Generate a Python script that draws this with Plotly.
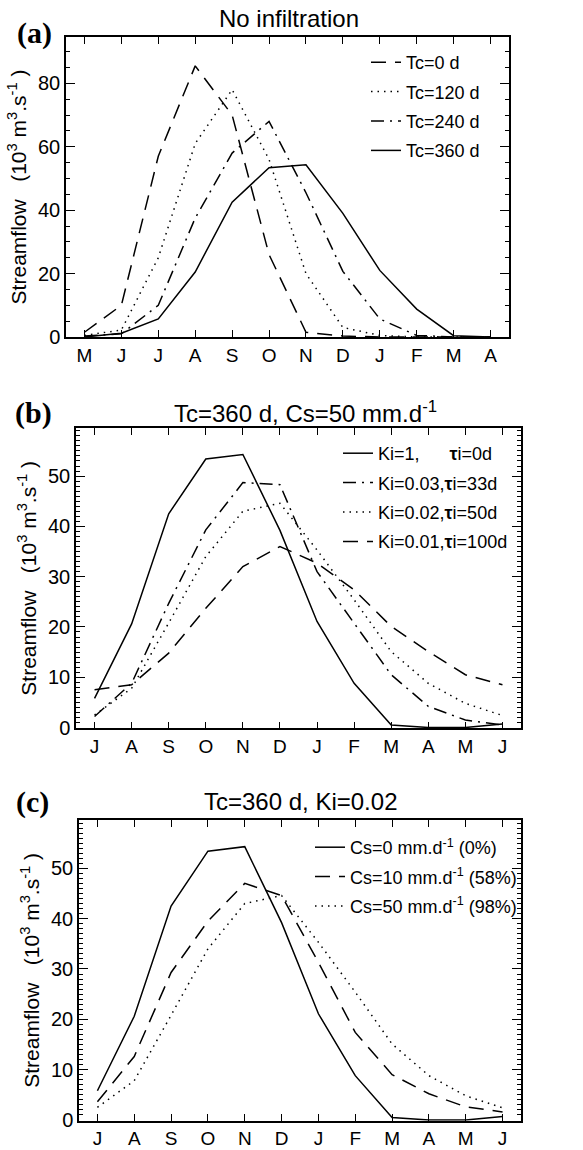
import plotly.graph_objects as go

# ---------------- data ----------------
months_a = ["M", "J", "J", "A", "S", "O", "N", "D", "J", "F", "M", "A"]
months_bc = ["J", "A", "S", "O", "N", "D", "J", "F", "M", "A", "M", "J"]

# panel (a): no infiltration
tc0 = [1.5, 10, 57, 85.5, 70, 26, 1.5, 0.3, 0, 0, 0, 0]
tc120 = [0.5, 2.2, 25, 61, 78, 56, 20, 3, 0.5, 0, 0, 0]
tc240 = [0.3, 1, 10, 37.5, 58, 68, 45.5, 20.7, 5.7, 0.5, 0, 0]
tc360 = [0, 1.2, 5.7, 20.5, 42.5, 53.4, 54.3, 39, 21, 8.8, 0.4, 0]

# panel (b): Tc=360 d, Cs=50 mm/d
b_ki1 = [5.8, 20.6, 42.5, 53.4, 54.3, 39.2, 21.1, 8.8, 0.5, 0, 0, 0.7]
b_ki003 = [2.2, 8.8, 24.7, 39.3, 48.7, 48.3, 31, 20.8, 10.5, 4.2, 1.5, 0.5]
b_ki002 = [2.5, 7.8, 20.8, 34, 43, 44.6, 35.3, 25.4, 15.1, 8.8, 4.8, 2.4]
b_ki001 = [7.5, 8.5, 14.8, 23.7, 32, 36, 32.7, 27.4, 20.1, 15.1, 10.5, 8.5]

# panel (c): Tc=360 d, Ki=0.02
c_cs0 = [5.8, 20.6, 42.5, 53.4, 54.3, 39.2, 21.1, 8.8, 0.5, 0, 0, 0.7]
c_cs10 = [3.6, 12.6, 29.3, 39.5, 47, 44.6, 31.3, 17.4, 9, 5.2, 2.6, 1.6]
c_cs50 = [2.5, 7.8, 20.8, 34, 43, 44.6, 35.3, 25.4, 15.1, 8.8, 4.8, 2.4]

FONT = "Liberation Sans"
W, H = 583, 1150
DASH = "15px,9px"
DOT = "1.5px,5px"
DASHDOT = "13px,6px,2px,6px"

fig = go.Figure()

def add(y, name, dash, xa, ya, leg, grp):
    fig.add_trace(go.Scatter(
        x=list(range(len(y))), y=y, mode="lines", name=name,
        line=dict(color="black", width=1.5, dash=dash),
        xaxis=xa, yaxis=ya, legend=leg, legendgroup=grp,
    ))

add(tc0, "Tc=0 d", DASH, "x", "y", "legend", "a1")
add(tc120, "Tc=120 d", DOT, "x", "y", "legend", "a2")
add(tc240, "Tc=240 d", DASHDOT, "x", "y", "legend", "a3")
add(tc360, "Tc=360 d", "solid", "x", "y", "legend", "a4")

sp = "\u00a0"
add(b_ki1, "Ki=1," + sp * 6 + "<b>τ</b>i=0d", "solid", "x2", "y2", "legend2", "b1")
add(b_ki003, "Ki=0.03,<b>τ</b>i=33d", DASHDOT, "x2", "y2", "legend2", "b2")
add(b_ki002, "Ki=0.02,<b>τ</b>i=50d", DOT, "x2", "y2", "legend2", "b3")
add(b_ki001, "Ki=0.01,<b>τ</b>i=100d", DASH, "x2", "y2", "legend2", "b4")

add(c_cs0, "Cs=0 mm.d<sup>-1</sup> (0%)", "solid", "x3", "y3", "legend3", "c1")
add(c_cs10, "Cs=10 mm.d<sup>-1</sup> (58%)", DASH, "x3", "y3", "legend3", "c2")
add(c_cs50, "Cs=50 mm.d<sup>-1</sup> (98%)", DOT, "x3", "y3", "legend3", "c3")

def px(v):
    return v / W

def py(v):
    return 1 - v / H

def xaxis(dom, labels, anchor):
    return dict(
        domain=dom, anchor=anchor, range=[-0.5, 11.5],
        tickvals=list(range(12)), ticktext=labels,
        ticks="inside", ticklen=7, tickwidth=1.2, tickcolor="black",
        showline=True, linecolor="black", linewidth=1.5, mirror="allticks",
        showgrid=False, zeroline=False, automargin=False,
        tickfont=dict(family=FONT, size=19, color="black"),
    )

ytitle = ("Streamflow" + sp * 3 + "(10<sup>3</sup>" + sp + "m<sup>3</sup>.s<sup>-1</sup>"
          + sp + ")")

def yaxis(dom, rng, dtick, minor, anchor):
    return dict(
        domain=dom, anchor=anchor, range=rng, dtick=dtick, tick0=0,
        ticks="inside", ticklen=9, tickwidth=1.2, tickcolor="black",
        minor=dict(dtick=minor, tick0=0, ticks="inside", ticklen=4,
                   tickwidth=1, tickcolor="black", showgrid=False),
        showline=True, linecolor="black", linewidth=1.5, mirror="allticks",
        showgrid=False, zeroline=False, automargin=False,
        tickfont=dict(family=FONT, size=20, color="black"),
        title=dict(text=ytitle, font=dict(family=FONT, size=21, color="black"), standoff=6),
    )

leg_common = dict(xanchor="left", yanchor="top", bgcolor="rgba(0,0,0,0)",
                  font=dict(family=FONT, size=18, color="black"),
                  tracegroupgap=3, traceorder="grouped", borderwidth=0)

fig.update_layout(
    width=W, height=H, margin=dict(l=0, r=0, t=0, b=0),
    paper_bgcolor="white", plot_bgcolor="white",
    showlegend=True,
    xaxis=xaxis([px(66), px(509)], months_a, "y"),
    yaxis=yaxis([py(337), py(37)], [0, 94.6], 20, 5, "x"),
    xaxis2=xaxis([px(76), px(521)], months_bc, "y2"),
    yaxis2=yaxis([py(728.3), py(428.3)], [-0.15, 59.5], 10, 1, "x2"),
    xaxis3=xaxis([px(79), px(521)], months_bc, "y3"),
    yaxis3=yaxis([py(1120.7), py(820)], [-0.15, 59.6], 10, 1, "x3"),
    legend=dict(x=px(366), y=py(44), **leg_common),
    legend2=dict(x=px(338), y=py(435), **leg_common),
    legend3=dict(x=px(310), y=py(829), **leg_common),
)

titles = [
    ("No infiltration", 289, 18),
    ("Tc=360 d, Cs=50 mm.d<sup>-1</sup>", 305, 412),
    ("Tc=360 d, Ki=0.02", 300, 802),
]
for txt, x0, y0 in titles:
    fig.add_annotation(text=txt, x=px(x0), y=py(y0), xref="paper", yref="paper",
                       xanchor="center", yanchor="middle", showarrow=False,
                       font=dict(family=FONT, size=24, color="black"))

panels = [("(a)", 34, 33), ("(b)", 33, 413), ("(c)", 32, 802)]
for txt, x0, y0 in panels:
    fig.add_annotation(text="<b>" + txt + "</b>", x=px(x0), y=py(y0), xref="paper", yref="paper",
                       xanchor="center", yanchor="middle", showarrow=False,
                       font=dict(family="Liberation Serif", size=30, color="black"))

fig.write_html("out.html", config={"displayModeBar": False},
               post_script="document.body.style.margin='0px';document.body.style.padding='0px';")
